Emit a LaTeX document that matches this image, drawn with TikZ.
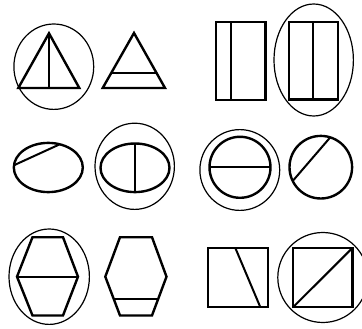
\documentclass[tikz,border=0pt]{standalone}
\begin{document}
\begin{tikzpicture}[x=1pt,y=-1pt,
  thickline/.style={line width=2.4pt,line join=miter},
  midline/.style={line width=2pt},
  thinline/.style={line width=1.2pt}]
\useasboundingbox (0,0) rectangle (362,329);
\clip (0,0) rectangle (362,329);
% Row 1
\draw[thinline] (53.8,66.7) ellipse [x radius=39.9pt,y radius=42.7pt];
\draw[thickline] (18.3,88)--(49,33.3)--(79.3,88)--cycle;
\draw[midline] (49,33.3)--(49,88);
\draw[thickline] (102.7,88)--(134,33)--(165,88)--cycle;
\draw[midline] (111.1,73.3)--(156.7,73.3);
\draw[thickline] (215.9,21.9) rectangle (265.5,99.8);
\draw[midline] (230.7,21.9)--(230.7,99.8);
\draw[thinline] (313.7,60) ellipse [x radius=39.7pt,y radius=56pt];
\draw[thickline] (288.9,21.9) rectangle (337.8,99.5);
\draw[midline] (313.3,21.9)--(313.3,99.5);
% Row 2
\draw[thickline] (48.3,167.5) ellipse [x radius=34.5pt,y radius=24.6pt];
\draw[midline] (14.5,165)--(59.3,144.5);
\draw[thinline] (134.7,166.3) ellipse [x radius=39.7pt,y radius=43.1pt];
\draw[thickline] (135,167.8) ellipse [x radius=34.5pt,y radius=24.3pt];
\draw[midline] (134.5,143.5)--(134.5,192.1);
\draw[thinline] (239.8,170) ellipse [x radius=39.9pt,y radius=40.4pt];
\draw[thickline] (240,167.3) circle [radius=30.5pt];
\draw[midline] (209.5,167.3)--(270.5,167.3);
\draw[thickline] (320.8,167.2) circle [radius=31.3pt];
\draw[midline] (292.7,181)--(330.3,137.3);
% Row 3
\draw[thinline] (49.2,276.7) ellipse [x radius=40.2pt,y radius=47.7pt];
\draw[thickline] (32.5,237.2)--(63,237.2)--(78,276.7)--(63,315.5)--(32.5,315.5)--(17,276.7)--cycle;
\draw[midline] (17,276.7)--(78,276.7);
\draw[thickline] (120,237.2)--(152,237.2)--(166.5,276.7)--(152,315.5)--(120,315.5)--(105.3,276.7)--cycle;
\draw[midline] (113.8,299)--(158.2,299);
\draw[thickline] (208.2,247.9) rectangle (268.1,307.1);
\draw[midline] (235.3,247.9)--(260.3,307.1);
\draw[thinline] (322.8,277.5) circle [radius=45pt];
\draw[thickline] (293.2,247.9) rectangle (352.5,307.1);
\draw[midline] (293.2,307.1)--(352.5,247.9);
\end{tikzpicture}
\end{document}
